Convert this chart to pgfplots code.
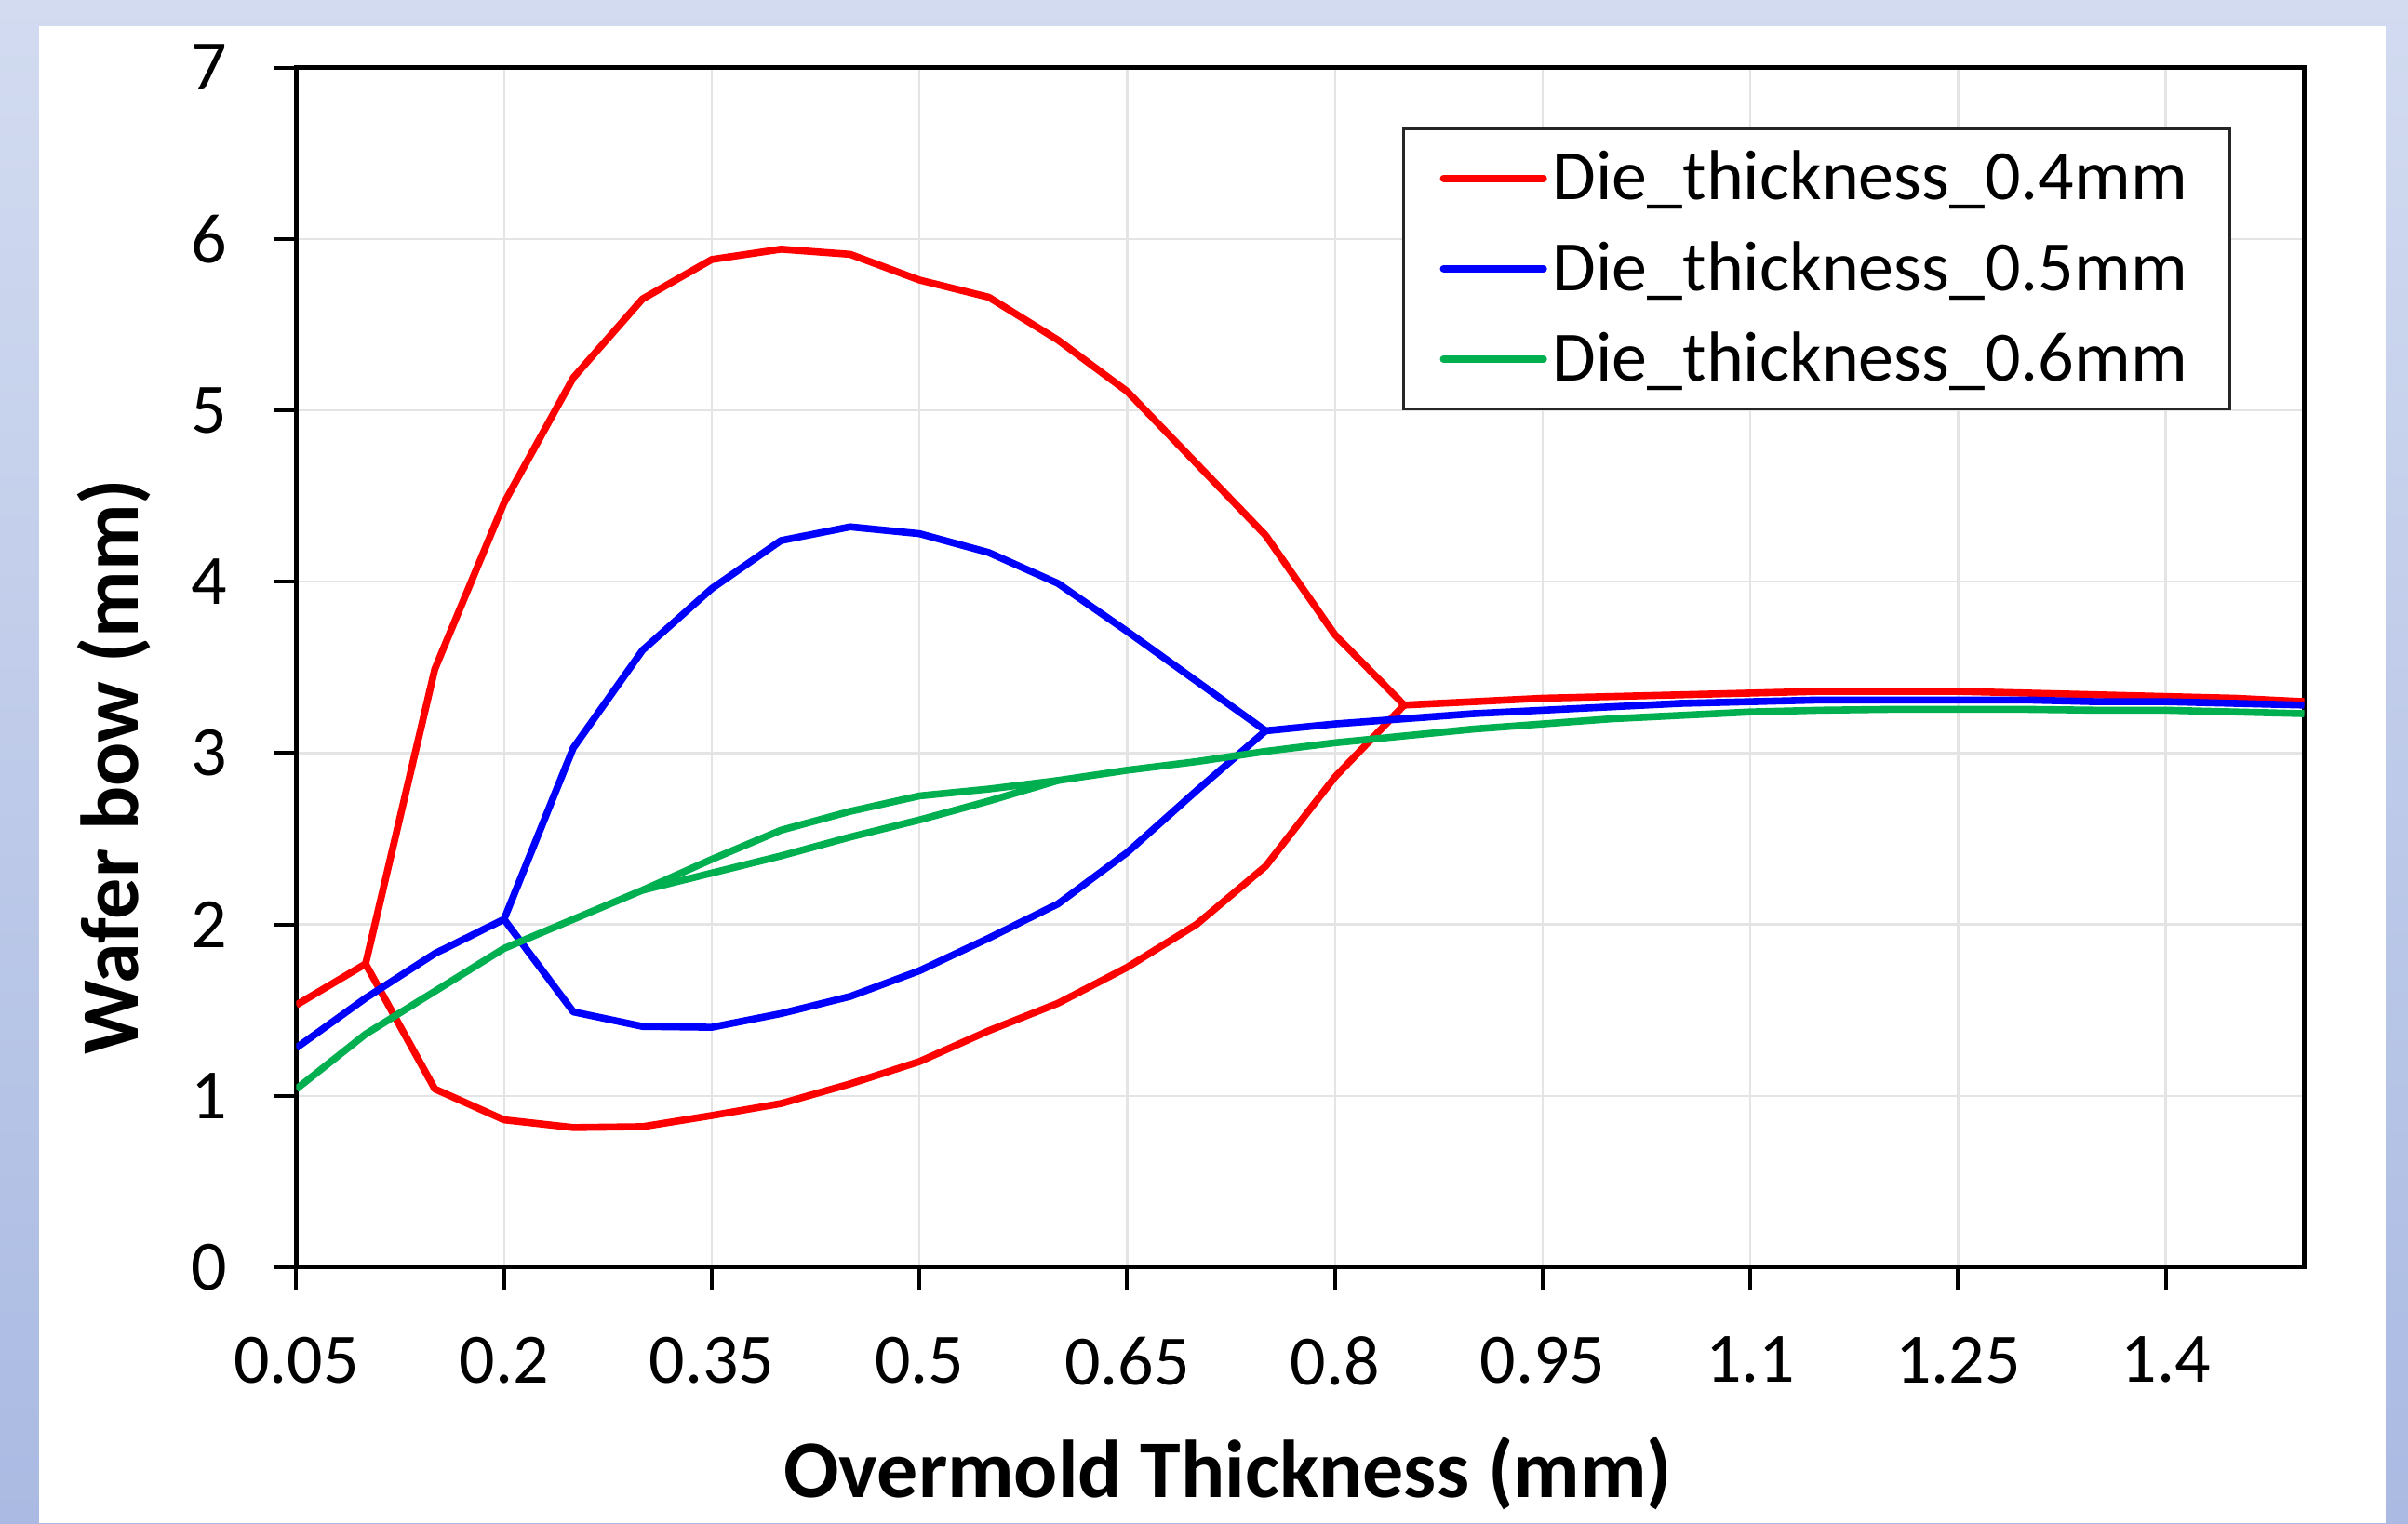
\documentclass[border=0pt]{standalone}
\usepackage{fontspec}
\setmainfont{Carlito}
\usepackage{pgfplots}
\pgfplotsset{compat=1.18}
\definecolor{xred}{RGB}{255,0,0}
\definecolor{xblue}{RGB}{0,0,255}
\definecolor{xgreen}{RGB}{0,176,80}
\definecolor{gridgray}{RGB}{228,228,228}
\definecolor{bgtop}{RGB}{210,219,240}
\definecolor{bgbot}{RGB}{170,186,226}

\begin{document}
\begin{tikzpicture}
% slide background and white panel (1px of the reference = 0.25pt)
\useasboundingbox (-79.625pt,-68.75pt) rectangle (567.375pt,340.5pt);
\shade[top color=bgtop,bottom color=bgbot] (-79.625pt,-68.75pt) rectangle (567.375pt,340.5pt);
\fill[white] (-69.125pt,-68.75pt) rectangle (561.375pt,333.5pt);
\begin{axis}[
  scale only axis,width=539.5pt,height=322.35pt,
  xmin=0.05,xmax=1.5,ymin=0,ymax=7,
  xtick={0.05,0.2,0.35,0.5,0.65,0.8,0.95,1.1,1.25,1.4},
  xticklabels={0.05,0.2,0.35,0.5,0.65,0.8,0.95,1.1,1.25,1.4},
  ytick={0,1,...,7},
  xtick pos=bottom,ytick pos=left,
  tick align=outside,major tick length=6pt,
  tick style={black,line width=1pt},
  /pgf/number format/assume math mode=true,
  tick label style={font=\fontsize{19}{22}\selectfont},
  xticklabel style={inner sep=0pt,anchor=north,yshift=-12.5pt},
  yticklabel style={inner sep=0pt,anchor=east,xshift=-12.4pt},
  grid=major,grid style={gridgray,line width=0.6pt},
  axis line style={black,line width=1.2pt},
  xlabel={\textbf{Overmold Thickness (mm)}},
  ylabel={\textbf{Wafer bow (mm)}},
  label style={font=\fontsize{22}{26}\selectfont},
  xlabel style={at={(axis description cs:0.464,-0.1916)},anchor=base,inner sep=0pt},
  ylabel style={at={(axis description cs:-0.1092,0.417)},anchor=north,rotate=0,inner sep=0pt},
  legend cell align=left,
  legend style={at={(axis description cs:0.9634,0.9503)},anchor=north east,
    draw=black!85,line width=0.75pt,font=\fontsize{19}{22}\selectfont,
    inner xsep=9.8pt,inner ysep=4.5pt,row sep=6.6pt,
    nodes={inner sep=1.5pt}},
  legend image code/.code={\draw[#1,line width=2pt,line cap=round] (0pt,0pt) -- (26.8pt,0pt);},
  every axis plot/.append style={line width=1.9pt,line join=round},
]
% Die thickness 0.4 mm
\addplot[xred] coordinates {
  (0.05,1.53) (0.1,1.77) (0.15,3.49) (0.2,4.46) (0.25,5.19) (0.3,5.65)
  (0.35,5.88) (0.4,5.94) (0.45,5.91) (0.5,5.76) (0.55,5.66) (0.6,5.41)
  (0.65,5.11) (0.7,4.69) (0.75,4.27) (0.8,3.69) (0.85,3.28) (0.9,3.30)
  (0.95,3.32) (1.0,3.33) (1.05,3.34) (1.1,3.35) (1.15,3.36) (1.2,3.36)
  (1.25,3.36) (1.3,3.35) (1.35,3.34) (1.4,3.33) (1.45,3.32) (1.5,3.30)};
\addlegendentry{Die\_thickness\_0.4mm}
\addplot[xred,forget plot] coordinates {
  (0.1,1.77) (0.15,1.04) (0.2,0.86) (0.25,0.815) (0.3,0.82) (0.35,0.885)
  (0.4,0.955) (0.45,1.07) (0.5,1.20) (0.55,1.38) (0.6,1.54) (0.65,1.75)
  (0.7,2.00) (0.75,2.34) (0.8,2.86) (0.85,3.28)};
% Die thickness 0.5 mm
\addplot[xblue] coordinates {
  (0.05,1.28) (0.1,1.57) (0.15,1.83) (0.2,2.03) (0.25,3.03) (0.3,3.60)
  (0.35,3.96) (0.4,4.24) (0.45,4.32) (0.5,4.28) (0.55,4.17) (0.6,3.99)
  (0.65,3.71) (0.7,3.42) (0.75,3.13) (0.8,3.17) (0.85,3.20) (0.9,3.23)
  (0.95,3.25) (1.0,3.27) (1.05,3.29) (1.1,3.30) (1.15,3.31) (1.2,3.31)
  (1.25,3.31) (1.3,3.31) (1.35,3.30) (1.4,3.30) (1.45,3.29) (1.5,3.28)};
\addlegendentry{Die\_thickness\_0.5mm}
\addplot[xblue,forget plot] coordinates {
  (0.2,2.03) (0.25,1.49) (0.3,1.405) (0.35,1.40) (0.4,1.48) (0.45,1.58)
  (0.5,1.73) (0.55,1.92) (0.6,2.12) (0.65,2.42) (0.7,2.78) (0.75,3.13)};
% Die thickness 0.6 mm
\addplot[xgreen] coordinates {
  (0.05,1.04) (0.1,1.36) (0.15,1.61) (0.2,1.86) (0.25,2.03) (0.3,2.20)
  (0.35,2.38) (0.4,2.55) (0.45,2.66) (0.5,2.75) (0.55,2.79) (0.6,2.84)
  (0.65,2.90) (0.7,2.95) (0.75,3.01) (0.8,3.06) (0.85,3.10) (0.9,3.14)
  (0.95,3.17) (1.0,3.20) (1.05,3.22) (1.1,3.24) (1.15,3.25) (1.2,3.255)
  (1.25,3.255) (1.3,3.255) (1.35,3.25) (1.4,3.25) (1.45,3.24) (1.5,3.23)};
\addlegendentry{Die\_thickness\_0.6mm}
\addplot[xgreen,forget plot] coordinates {
  (0.3,2.20) (0.35,2.30) (0.4,2.40) (0.45,2.51) (0.5,2.61) (0.55,2.72) (0.6,2.84)};
\end{axis}
\end{tikzpicture}
\end{document}
